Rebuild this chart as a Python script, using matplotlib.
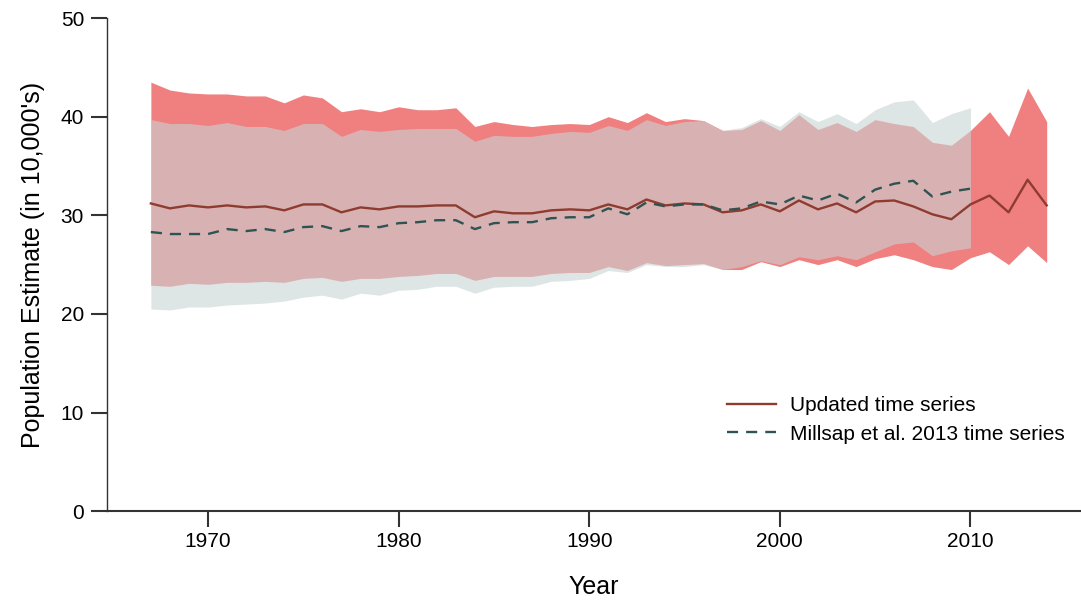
import numpy as np
import matplotlib
matplotlib.use("Agg")
import matplotlib.pyplot as plt

# updated time series, 1967-2014
upd_years = np.arange(1967, 2015)
upd_mean = [31.2, 30.7, 31.0, 30.8, 31.0, 30.8, 30.9, 30.5, 31.1, 31.1,
            30.3, 30.8, 30.6, 30.9, 30.9, 31.0, 31.0, 29.8, 30.4, 30.2,
            30.2, 30.5, 30.6, 30.5, 31.1, 30.6, 31.6, 31.0, 31.2, 31.1,
            30.3, 30.5, 31.1, 30.4, 31.5, 30.6, 31.2, 30.3, 31.4, 31.5,
            30.9, 30.1, 29.6, 31.1, 32.0, 30.3, 33.6, 31.0]
upd_upper = [43.5, 42.7, 42.4, 42.3, 42.3, 42.1, 42.1, 41.4, 42.2, 41.9,
             40.5, 40.8, 40.5, 41.0, 40.7, 40.7, 40.9, 39.0, 39.5, 39.2,
             39.0, 39.2, 39.3, 39.2, 40.0, 39.4, 40.4, 39.5, 39.8, 39.6,
             38.6, 38.7, 39.6, 38.6, 40.2, 38.7, 39.4, 38.5, 39.7, 39.3,
             39.0, 37.4, 37.1, 38.6, 40.5, 38.0, 42.9, 39.5]
upd_lower = [22.9, 22.8, 23.1, 23.0, 23.2, 23.2, 23.3, 23.2, 23.6, 23.7,
             23.3, 23.6, 23.6, 23.8, 23.9, 24.1, 24.1, 23.4, 23.8, 23.8,
             23.8, 24.1, 24.2, 24.2, 24.8, 24.4, 25.2, 24.9, 25.0, 25.1,
             24.5, 24.5, 25.3, 24.8, 25.5, 25.0, 25.5, 24.8, 25.6, 26.0,
             25.5, 24.8, 24.5, 25.7, 26.3, 25.0, 26.9, 25.2]

# Millsap et al. 2013 time series, 1967-2010
mil_years = np.arange(1967, 2011)
mil_mean = [28.3, 28.1, 28.1, 28.1, 28.6, 28.4, 28.6, 28.3, 28.8, 28.9,
            28.4, 28.9, 28.8, 29.2, 29.3, 29.5, 29.5, 28.6, 29.2, 29.3,
            29.3, 29.7, 29.8, 29.8, 30.7, 30.1, 31.3, 30.9, 31.1, 31.1,
            30.5, 30.7, 31.4, 31.1, 32.0, 31.5, 32.2, 31.3, 32.6, 33.2,
            33.5, 31.9, 32.4, 32.7]
mil_upper = [39.7, 39.3, 39.3, 39.1, 39.4, 39.0, 39.0, 38.6, 39.3, 39.3,
             38.0, 38.7, 38.5, 38.7, 38.8, 38.8, 38.8, 37.5, 38.1, 38.0,
             38.0, 38.3, 38.5, 38.4, 39.1, 38.6, 39.7, 39.1, 39.5, 39.6,
             38.6, 38.9, 39.8, 39.0, 40.5, 39.5, 40.3, 39.3, 40.7, 41.5,
             41.7, 39.4, 40.3, 40.9]
mil_lower = [20.5, 20.4, 20.7, 20.7, 20.9, 21.0, 21.1, 21.3, 21.7, 21.9,
             21.5, 22.1, 21.9, 22.4, 22.5, 22.8, 22.8, 22.1, 22.7, 22.8,
             22.8, 23.3, 23.4, 23.6, 24.4, 24.2, 25.0, 24.8, 24.8, 25.0,
             24.5, 24.8, 25.4, 25.0, 25.8, 25.5, 25.9, 25.5, 26.3, 27.1,
             27.3, 25.9, 26.4, 26.7]

plt.rcParams['font.family'] = ['Liberation Sans', 'DejaVu Sans']

fig = plt.figure(figsize=(10.81, 6.0), dpi=100)
ax = fig.add_axes([0.099, 0.148, 0.901, 0.822])

ax.fill_between(upd_years, upd_lower, upd_upper, color='#F08080', lw=0)
ax.fill_between(mil_years, mil_lower, mil_upper, color=(0.79, 0.83, 0.83),
                alpha=0.6, lw=0)
ax.plot(upd_years, upd_mean, color='#8E3B30', lw=1.7,
        label='Updated time series')
ax.plot(mil_years, mil_mean, color='#2F5352', lw=1.7, ls=(0, (4.7, 3.4)),
        label='Millsap et al. 2013 time series')

ax.set_xlim(1964.7, 2015.8)
ax.set_ylim(0, 50)
ax.set_xticks([1970, 1980, 1990, 2000, 2010])
ax.set_yticks([0, 10, 20, 30, 40, 50])
ax.spines['top'].set_visible(False)
ax.spines['right'].set_visible(False)
for s in ('left', 'bottom'):
    ax.spines[s].set_color('#333333')
ax.spines['left'].set_linewidth(1.0)
ax.spines['bottom'].set_linewidth(1.5)
ax.tick_params(axis='both', length=11.5, width=1.5, color='#333333',
               labelsize=15)
ax.tick_params(axis='y', pad=5)
ax.tick_params(axis='x', pad=3.5)

ax.set_xlabel('Year', fontsize=18, labelpad=17)
ax.set_ylabel("Population Estimate (in 10,000's)", fontsize=18, labelpad=11)

ax.legend(loc='upper left', bbox_to_anchor=(0.617, 0.271), frameon=False,
          fontsize=15, handlelength=2.35, handletextpad=0.67,
          labelspacing=0.45)

fig.savefig('out.png', dpi=100)
plt.close(fig)
